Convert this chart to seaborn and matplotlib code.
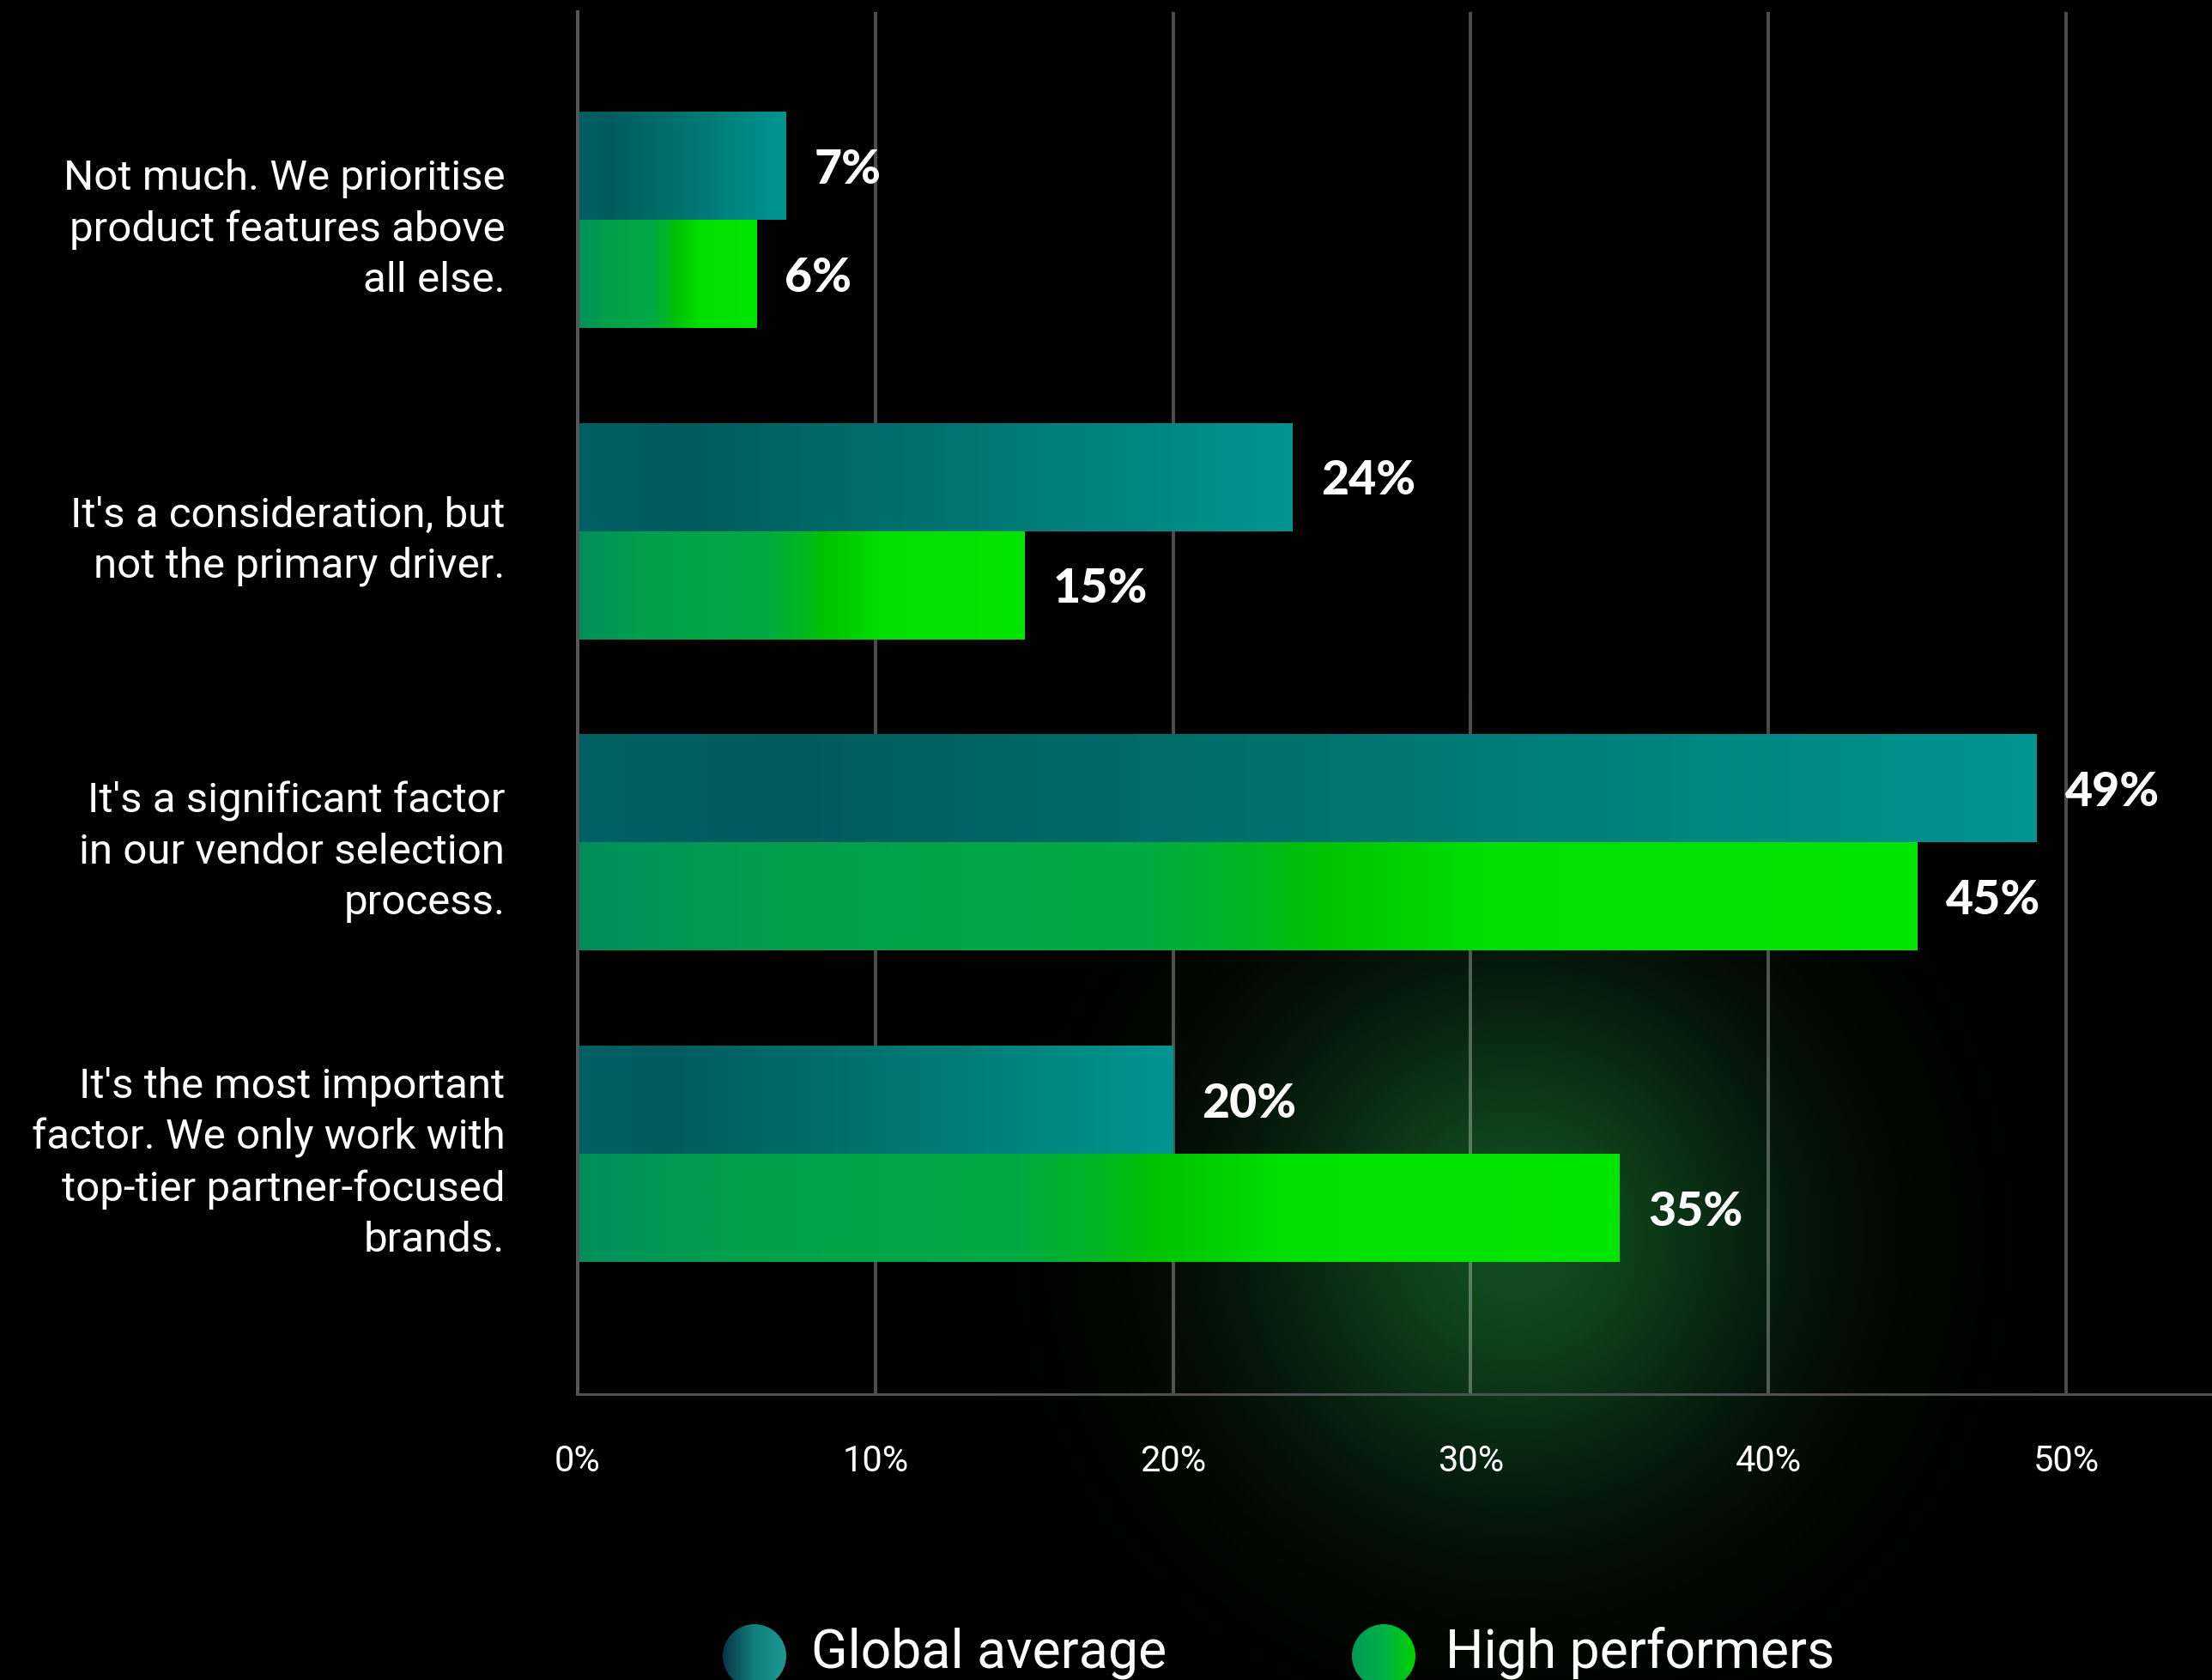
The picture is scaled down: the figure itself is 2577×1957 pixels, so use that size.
import numpy as np
import pandas as pd
import matplotlib
matplotlib.use("Agg")
import matplotlib.pyplot as plt
from matplotlib.colors import LinearSegmentedColormap
from matplotlib.patches import Circle
import seaborn as sns

# ---- data -------------------------------------------------------------
categories = [
    "Not much. We prioritise\nproduct features above\nall else.",
    "It's a consideration, but\nnot the primary driver.",
    "It's a significant factor\nin our vendor selection\nprocess.",
    "It's the most important\nfactor. We only work with\ntop-tier partner-focused\nbrands.",
]
series_names = ["Global average", "High performers"]
global_average = [7, 24, 49, 20]
high_performers = [6, 15, 45, 35]
x_ticks = [0, 10, 20, 30, 40, 50]
x_tick_labels = ["0%", "10%", "20%", "30%", "40%", "50%"]

df = pd.DataFrame({
    "category": categories * 2,
    "group": [series_names[0]] * len(categories) + [series_names[1]] * len(categories),
    "value": global_average + high_performers,
})

# ---- style ------------------------------------------------------------
sns.set_style("dark")
plt.rcParams["font.family"] = ["Roboto", "DejaVu Sans"]
plt.rcParams["figure.facecolor"] = "black"

W, H, DPI = 2577, 1957, 100
fig = plt.figure(figsize=(W / DPI, H / DPI), dpi=DPI, facecolor="black")

# soft green glow behind the plot (pixel coordinates)
bg = fig.add_axes([0, 0, 1, 1], zorder=-10)
bg.set_axis_off()
yy, xx = np.mgrid[0:H:4, 0:W:4]
cx, cy, sigma = 1765, 1440, 215
r2 = (xx - cx) ** 2 + (yy - cy) ** 2
glow = np.exp(-r2 / (2 * sigma ** 2))[..., None] * np.array([0.07, 0.30, 0.13])
bg.imshow(np.clip(glow, 0, 1), extent=(0, W, H, 0), aspect="auto", interpolation="bilinear")
bg.set_xlim(0, W)
bg.set_ylim(H, 0)

# main axes
left_px, right_px, top_px, bottom_px = 673, W, 14, 1624
ax = fig.add_axes([left_px / W, 1 - bottom_px / H, (right_px - left_px) / W, (bottom_px - top_px) / H])
ax.set_facecolor("none")

palette = ["#007a78", "#00c030"]
sns.barplot(data=df, x="value", y="category", hue="group", orient="h",
            width=0.695, palette=palette, saturation=1, legend=False, ax=ax,
            linewidth=0)

grad_global = LinearSegmentedColormap.from_list("g", [
    (0.0, "#006064"), (0.15, "#005b5f"), (0.5, "#00736f"), (1.0, "#009590")])
grad_high = LinearSegmentedColormap.from_list("h", [
    (0.0, "#008f5c"), (0.15, "#00a04c"), (0.42, "#00aa42"), (0.5, "#00b622"),
    (0.56, "#00c400"), (0.68, "#00e000"), (1.0, "#00e600")])
ramp = np.linspace(0, 1, 256)[None, :]

for cmap, container in zip([grad_global, grad_high], ax.containers):
    for patch in container:
        x0, y0 = patch.get_x(), patch.get_y()
        w, h = patch.get_width(), patch.get_height()
        im = ax.imshow(ramp, cmap=cmap, extent=(x0, x0 + w, y0 + h, y0),
                       aspect="auto", interpolation="bicubic", zorder=2)
        im.set_clip_path(patch)

# value labels
for values, container in zip([global_average, high_performers], ax.containers):
    for v, patch in zip(values, container):
        ycen = patch.get_y() + patch.get_height() / 2
        ax.annotate(f"{v}%", xy=(patch.get_x() + patch.get_width(), ycen),
                    xytext=(24, -15), textcoords="offset points",
                    ha="left", va="baseline", color="white",
                    fontsize=40, fontweight="black", family=["Lato", "DejaVu Sans"],
                    zorder=5)

ax.set_xlim(0, (right_px - left_px) / 34.68)
ax.set_ylim(3.772, -0.667)
ax.set_xticks(x_ticks)
ax.set_xticklabels(x_tick_labels)
ax.set_xlabel("")
ax.set_ylabel("")

ax.grid(axis="x", color="white", alpha=0.3, linewidth=2.9)
ax.grid(axis="y", visible=False)
ax.set_axisbelow(True)

for s in ["top", "right"]:
    ax.spines[s].set_visible(False)
ax.spines["left"].set_color("#555555")
ax.spines["left"].set_linewidth(2.9)
ax.spines["bottom"].set_color("#505050")
ax.spines["bottom"].set_linewidth(2.2)

ax.tick_params(axis="x", length=0, pad=42, labelsize=30, labelcolor="white")
ax.tick_params(axis="y", length=0, pad=61, labelsize=35.5, labelcolor="white")
for t in ax.get_yticklabels():
    t.set_linespacing(1.36)

# legend (pixel coordinates)
ov = fig.add_axes([0, 0, 1, 1], zorder=10)
ov.set_axis_off()
ov.set_xlim(0, W)
ov.set_ylim(H, 0)
legend_items = [
    (879, 945, series_names[0], ["#083548", "#12807c", "#1c9a92"]),
    (1612, 1684, series_names[1], ["#009a55", "#00b048", "#00d200"]),
]
for ccx, tx, label, cols in legend_items:
    rad, ccy = 37, 1929
    cm = LinearSegmentedColormap.from_list("c", cols)
    circ = Circle((ccx, ccy), rad, transform=ov.transData, facecolor="none", edgecolor="none")
    ov.add_patch(circ)
    im = ov.imshow(ramp, cmap=cm, extent=(ccx - rad, ccx + rad, ccy + rad, ccy - rad),
                   aspect="auto", interpolation="bicubic")
    im.set_clip_path(circ)
    ov.text(tx, 1943, label, color="white", fontsize=45, ha="left", va="baseline")
ov.set_xlim(0, W)
ov.set_ylim(H, 0)

fig.savefig("out.png", dpi=DPI, facecolor="black")
